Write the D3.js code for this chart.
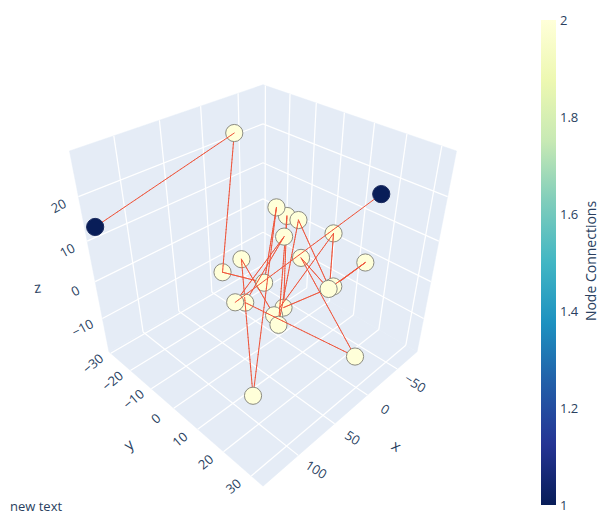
<!DOCTYPE html>
<html>
<head>
<meta charset="utf-8">
<script src="https://cdn.jsdelivr.net/npm/d3@7"></script>
<style>
html,body{margin:0;padding:0;background:#fff;}
svg{display:block;}
text{font-family:"Open Sans",Verdana,sans-serif;fill:#2a3f5f;}
</style>
</head>
<body>
<svg id="chart" width="613" height="525"></svg>
<script>
// ---- data ----
const nodeX = [138.6,-10.5,-5.2,24.4,19.6,-52.4,-65.2,-46.3,-28.8,-48.0,-6.9,-30.4,20.7,29.5,17.0,14.8,70.0,56.4,17.2,34.3,42.6,20.3,125.8];
const nodeY = [-28.2,-20.8,29.4,-16.9,-9.9,-15.7,-14.6,-5.1,-6.1,7.7,6.1,22.6,-0.4,24.2,22.9,21.3,2.8,2.5,6.3,7.3,11.2,32.3,25.6];
const nodeZ = [13.7,25.0,25.9,-5.3,0.4,5.2,2.1,5.8,2.8,6.5,3.9,6.45,-2.0,7.5,6.1,4.75,0.06,-1.8,-6.3,-5.8,-5.5,-6.7,-4.2];
const nodeConnections = [1,2,1,2,2,2,2,2,2,2,2,2,2,2,2,2,2,2,2,2,2,2,2];
const edgeSource = [2,16,8,17,21,10,13,11,14,18,6,20,7,15,9,19,4,22,5,12,3,1];
const edgeTarget = [16,8,17,21,10,13,11,14,18,6,20,7,15,9,19,4,22,5,12,3,1,0];
const xRange = [-86,144], yRange = [-31,34], zRange = [-19.75,29.3];
const xTicks = [-50,0,50,100];
const yTicks = [-30,-20,-10,0,10,20,30];
const zTicks = [-10,0,10,20];
const colorbarTicks = [1,1.2,1.4,1.6,1.8,2];
const colorStops = ["rgb(8,29,88)","rgb(37,52,148)","rgb(34,94,168)","rgb(29,145,192)","rgb(65,182,196)","rgb(127,205,187)","rgb(199,233,180)","rgb(237,248,177)","rgb(255,255,217)"];
const colorbarTitle = "Node Connections";
const noteText = "new text";

// ---- camera ----
const H = 0.4257, EYE = 2.165, FOCAL = 617, CX = 263, CY = 262.7;
const sx = d3.scaleLinear().domain(xRange).range([-H,H]);
const sy = d3.scaleLinear().domain(yRange).range([-H,H]);
const sz = d3.scaleLinear().domain(zRange).range([-H,H]);
const S2 = Math.SQRT2, S3 = Math.sqrt(3), S6 = Math.sqrt(6);
function project(x,y,z){
  const a = sx(x), b = sy(y), c = sz(z);
  const right = (b-a)/S2, up = (2*c-a-b)/S6, along = (a+b+c)/S3;
  const d = EYE-along;
  return {x:CX+FOCAL*right/d, y:CY-FOCAL*up/d, along};
}
const svg = d3.select("#chart");
const [x0,x1]=xRange,[y0,y1]=yRange,[z0,z1]=zRange;
const polyLine = d3.line().x(p=>p.x).y(p=>p.y);
const walls = [
  [[x0,y0,z0],[x1,y0,z0],[x1,y1,z0],[x0,y1,z0]],
  [[x0,y0,z0],[x1,y0,z0],[x1,y0,z1],[x0,y0,z1]],
  [[x0,y0,z0],[x0,y1,z0],[x0,y1,z1],[x0,y0,z1]]
];
svg.append("g").selectAll("path").data(walls).join("path")
  .attr("d",w=>polyLine(w.map(p=>project(...p)))+"Z")
  .attr("fill","#E5ECF6").attr("stroke","#E5ECF6").attr("stroke-width",0.5);

const grid = [];
xTicks.forEach(t=>{grid.push([[t,y0,z0],[t,y1,z0]]);grid.push([[t,y0,z0],[t,y0,z1]]);});
yTicks.forEach(t=>{grid.push([[x0,t,z0],[x1,t,z0]]);grid.push([[x0,t,z0],[x0,t,z1]]);});
zTicks.forEach(t=>{grid.push([[x0,y0,t],[x1,y0,t]]);grid.push([[x0,y0,t],[x0,y1,t]]);});
svg.append("g").selectAll("path").data(grid).join("path")
  .attr("d",l=>polyLine(l.map(p=>project(...p))))
  .attr("fill","none").attr("stroke","#fff").attr("stroke-width",1.25);

// ---- axis labels ----
function fmt(v){return String(v).replace("-","\u2212");}
function label(txt,p,dx,dy,rot,size){
  svg.append("text").text(txt)
    .attr("transform",`translate(${p.x+dx},${p.y+dy}) rotate(${rot})`)
    .attr("text-anchor","middle").attr("dominant-baseline","central")
    .attr("font-size",size);
}
xTicks.forEach(t=>label(fmt(t),project(t,y1,z0),18,14,33,13));
yTicks.forEach(t=>label(fmt(t),project(x1,t,z0),-18,10,-40,13));
zTicks.forEach(t=>label(fmt(t),project(x1,y0,t),-20,9,-28,13));
const xm=(x0+x1)/2, ym=(y0+y1)/2, zm=(z0+z1)/2;
label("x",project(xm,y1,z0),48,34,33,15);
label("y",project(x1,ym,z0),-49,33,-40,15);
label("z",project(x1,y0,zm),-54,24,-5,15);

// ---- edges and nodes, far to near ----
const color = d3.scaleLinear().domain(colorStops.map((_,i)=>1+i/(colorStops.length-1))).range(colorStops);
const nodes = nodeX.map((x,i)=>{const p=project(x,nodeY[i],nodeZ[i]);return {kind:"node",...p,v:nodeConnections[i]};});
const items = nodes.slice();
const PIECES = 40;
edgeSource.forEach((s,e)=>{
  const t = edgeTarget[e];
  d3.range(PIECES).forEach(k=>{
    const f=k/PIECES,g=(k+1)/PIECES;
    const at=q=>project(nodeX[s]+(nodeX[t]-nodeX[s])*q,nodeY[s]+(nodeY[t]-nodeY[s])*q,nodeZ[s]+(nodeZ[t]-nodeZ[s])*q);
    const a=at(f),b=at(g);
    items.push({kind:"piece",a,b,along:(a.along+b.along)/2});
  });
});
items.sort((p,q)=>d3.ascending(p.along,q.along));
const scene = svg.append("g");
items.forEach(it=>{
  if(it.kind==="node"){
    scene.append("circle").attr("cx",it.x).attr("cy",it.y).attr("r",8.6)
      .attr("fill",color(it.v))
      .attr("stroke",it.v===1?"#1a2a5e":"#8c8c82").attr("stroke-width",1);
  }else{
    scene.append("line").attr("x1",it.a.x).attr("y1",it.a.y).attr("x2",it.b.x).attr("y2",it.b.y)
      .attr("stroke","#EF553B").attr("stroke-width",1).attr("stroke-linecap","round");
  }
});

// ---- colorbar ----
const barY = d3.scaleLinear().domain([1,2]).range([505,20]);
const defs = svg.append("defs");
const grad = defs.append("linearGradient").attr("id","cb").attr("x1",0).attr("y1",1).attr("x2",0).attr("y2",0);
colorStops.forEach((c,i)=>grad.append("stop").attr("offset",i/(colorStops.length-1)).attr("stop-color",c));
svg.append("rect").attr("x",541).attr("y",barY(2)).attr("width",15).attr("height",barY(1)-barY(2)).attr("fill","url(#cb)");
const axis = d3.axisRight(barY).tickValues(colorbarTicks).tickFormat(d3.format("~g")).tickSize(0).tickPadding(4);
const ag = svg.append("g").attr("transform","translate(556,0)").call(axis);
ag.select(".domain").remove();
ag.selectAll("text").attr("font-size",13).attr("font-family",null).style("fill","#2a3f5f");
svg.append("text").text(colorbarTitle)
  .attr("transform","translate(590,261) rotate(-90)")
  .attr("text-anchor","middle").attr("dominant-baseline","central").attr("font-size",14);
svg.append("text").text(noteText).attr("x",10).attr("y",511).attr("font-size",13);
</script>
</body>
</html>
